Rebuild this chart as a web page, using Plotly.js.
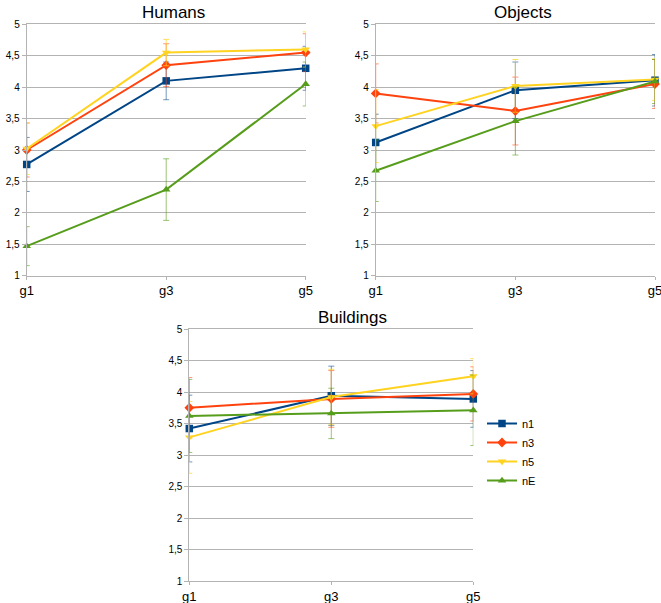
<!DOCTYPE html>
<html><head><meta charset="utf-8">
<script src="https://cdn.plot.ly/plotly-3.0.1.min.js"></script>
<style>html,body{margin:0;padding:0;background:#fff;}#chart{width:661px;height:603px;}</style>
</head><body><div id="chart"></div>
<script>
const categories = ['g1', 'g3', 'g5'];
const seriesNames = ['n1', 'n3', 'n5', 'nE'];
const panelTitles = ['Humans', 'Objects', 'Buildings'];

const humans_n1 = [2.77, 4.10, 4.30];
const humans_n3 = [3.00, 4.35, 4.55];
const humans_n5 = [3.02, 4.55, 4.60];
const humans_nE = [1.47, 2.37, 4.05];
const humans_err_n1 = [0.43, 0.30, 0.35];
const humans_err_n3 = [0.43, 0.34, 0.30];
const humans_err_n5 = [0.41, 0.21, 0.28];
const humans_err_nE = [0.31, 0.49, 0.35];

const objects_n1 = [3.12, 3.95, 4.11];
const objects_n3 = [3.90, 3.62, 4.05];
const objects_n5 = [3.38, 4.02, 4.12];
const objects_nE = [2.67, 3.46, 4.09];
const objects_err_n1 = [0.45, 0.45, 0.41];
const objects_err_n3 = [0.47, 0.54, 0.39];
const objects_err_n5 = [0.58, 0.42, 0.33];
const objects_err_nE = [0.49, 0.54, 0.35];

const buildings_n1 = [3.42, 3.94, 3.89];
const buildings_n3 = [3.75, 3.89, 3.97];
const buildings_n5 = [3.28, 3.92, 4.25];
const buildings_nE = [3.62, 3.66, 3.71];
const buildings_err_n1 = [0.53, 0.47, 0.45];
const buildings_err_n3 = [0.48, 0.45, 0.43];
const buildings_err_n5 = [0.57, 0.44, 0.28];
const buildings_err_nE = [0.58, 0.40, 0.56];

const colors = ['#004586', '#ff420e', '#ffd320', '#579d1c'];
const errColors = ['rgba(0,69,134,0.55)', 'rgba(255,66,14,0.55)', 'rgba(255,211,32,0.7)', 'rgba(87,157,28,0.6)'];
const symbols = ['square', 'diamond', 'triangle-down', 'triangle-up'];

const panels = [
  {vals: [humans_n1, humans_n3, humans_n5, humans_nE], errs: [humans_err_n1, humans_err_n3, humans_err_n5, humans_err_nE], xa: 'x', ya: 'y'},
  {vals: [objects_n1, objects_n3, objects_n5, objects_nE], errs: [objects_err_n1, objects_err_n3, objects_err_n5, objects_err_nE], xa: 'x2', ya: 'y2'},
  {vals: [buildings_n1, buildings_n3, buildings_n5, buildings_nE], errs: [buildings_err_n1, buildings_err_n3, buildings_err_n5, buildings_err_nE], xa: 'x3', ya: 'y3'}
];

const traces = [];
panels.forEach((p, pi) => {
  seriesNames.forEach((name, si) => {
    traces.push({
      type: 'scatter', mode: 'lines+markers',
      x: categories, y: p.vals[si], name: name,
      xaxis: p.xa, yaxis: p.ya,
      showlegend: pi === 2,
      cliponaxis: false,
      line: {color: colors[si], width: 2},
      marker: {symbol: symbols[si], size: 7.5, color: colors[si]},
      error_y: {type: 'data', array: p.errs[si], visible: true, color: errColors[si], thickness: 1, width: 3}
    });
  });
});

const W = 661, H = 603;
function xd(a, b) { return [a / W, b / W]; }
function yd(top, bottom) { return [1 - bottom / H, 1 - top / H]; }

function xaxis(dom, anchor) {
  return {domain: dom, anchor: anchor, type: 'category', range: [0, 2],
    showgrid: false, showline: true, mirror: true, linecolor: '#b3b3b3', linewidth: 1,
    ticks: 'outside', ticklen: 3, tickcolor: '#b3b3b3', zeroline: false, ticklabelstandoff: 0,
    tickfont: {family: 'Liberation Sans, Arial, sans-serif', size: 13, color: '#000'}, fixedrange: true};
}
function yaxis(dom, anchor) {
  return {domain: dom, anchor: anchor, range: [1, 5], dtick: 0.5, tick0: 1,
    showgrid: true, gridcolor: '#b3b3b3', gridwidth: 1, showline: true, linecolor: '#b3b3b3',
    ticks: 'outside', ticklen: 4, tickcolor: '#b3b3b3', zeroline: false,
    tickfont: {family: 'Liberation Sans, Arial, sans-serif', size: 10, color: '#000'}, fixedrange: true};
}

const titleFont = {family: 'Liberation Sans, Arial, sans-serif', size: 17, color: '#000'};

const layout = {
  width: W, height: H,
  margin: {l: 0, r: 0, t: 0, b: 0},
  paper_bgcolor: '#fff', plot_bgcolor: '#fff',
  separators: ', ',
  xaxis: xaxis(xd(26.7, 305.7), 'y'),
  yaxis: yaxis(yd(24.3, 275.7), 'x'),
  xaxis2: xaxis(xd(375.7, 655), 'y2'),
  yaxis2: yaxis(yd(24.3, 275.7), 'x2'),
  xaxis3: xaxis(xd(189.3, 473.3), 'y3'),
  yaxis3: yaxis(yd(329, 581), 'x3'),
  showlegend: true,
  legend: {x: 482 / W, xanchor: 'left', y: 1 - 409 / H, yanchor: 'top',
    font: {family: 'Liberation Sans, Arial, sans-serif', size: 11, color: '#000'},
    bgcolor: 'rgba(0,0,0,0)', itemwidth: 30, tracegroupgap: 0},
  annotations: [
    {text: panelTitles[0], xref: 'paper', yref: 'paper', x: 173 / W, y: 1 - 12 / H, xanchor: 'center', yanchor: 'middle', showarrow: false, font: titleFont},
    {text: panelTitles[1], xref: 'paper', yref: 'paper', x: 523 / W, y: 1 - 12 / H, xanchor: 'center', yanchor: 'middle', showarrow: false, font: titleFont},
    {text: panelTitles[2], xref: 'paper', yref: 'paper', x: 352 / W, y: 1 - 317 / H, xanchor: 'center', yanchor: 'middle', showarrow: false, font: titleFont}
  ]
};

Plotly.newPlot('chart', traces, layout, {displayModeBar: false, staticPlot: true});
</script></body></html>
